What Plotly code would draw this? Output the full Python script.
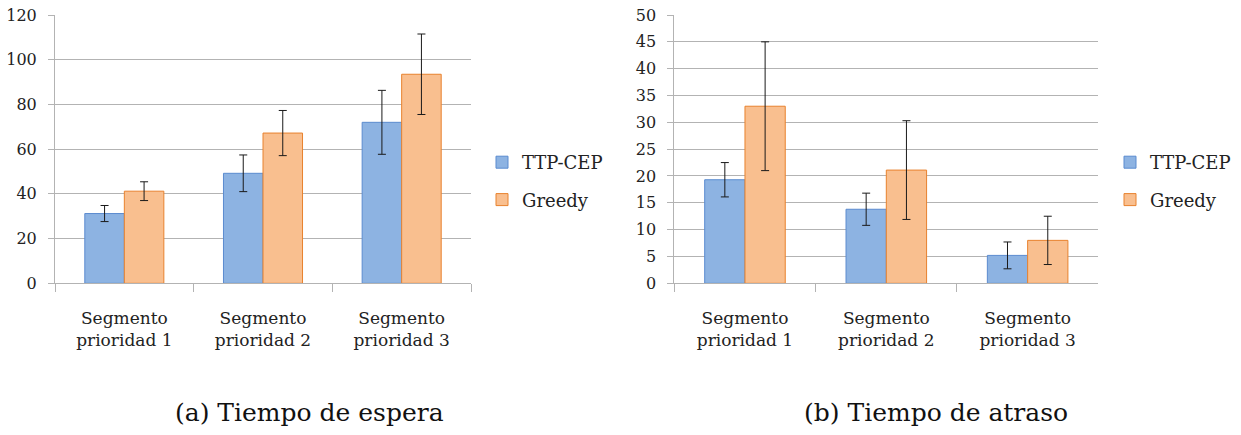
import plotly.graph_objects as go

# Categories and measured values
categorias = ["Segmento<br>prioridad 1", "Segmento<br>prioridad 2", "Segmento<br>prioridad 3"]

espera_ttp = [31.2, 49.2, 72.0]
espera_ttp_err = [3.6, 8.2, 14.3]
espera_greedy = [41.2, 67.2, 93.5]
espera_greedy_err = [4.2, 10.1, 18.0]

atraso_ttp = [19.3, 13.8, 5.2]
atraso_ttp_err = [3.2, 3.0, 2.5]
atraso_greedy = [33.0, 21.1, 8.0]
atraso_greedy_err = [12.0, 9.2, 4.5]

series_names = ["TTP-CEP", "Greedy"]

FONT = "'DejaVu Serif', serif"
BLUE_FILL, BLUE_LINE = "#8DB3E2", "#5B8BCF"
ORANGE_FILL, ORANGE_LINE = "#F9BF8F", "#E8822E"
GRID = "#B3B3B3"

fig = go.Figure()


def add_pair(xaxis, yaxis, legend, ttp, ttp_err, greedy, greedy_err):
    for name, vals, errs, fill, line, grp in [
        (series_names[0], ttp, ttp_err, BLUE_FILL, BLUE_LINE, "a"),
        (series_names[1], greedy, greedy_err, ORANGE_FILL, ORANGE_LINE, "b"),
    ]:
        fig.add_trace(go.Bar(
            x=categorias, y=vals, name=name,
            xaxis=xaxis, yaxis=yaxis, legend=legend, legendgroup=legend + grp,
            marker=dict(color=fill, line=dict(color=line, width=1)),
            error_y=dict(type="data", array=errs, visible=True,
                         color="#1a1a1a", thickness=1, width=4),
        ))


add_pair("x", "y", "legend", espera_ttp, espera_ttp_err, espera_greedy, espera_greedy_err)
add_pair("x2", "y2", "legend2", atraso_ttp, atraso_ttp_err, atraso_greedy, atraso_greedy_err)

W, H = 1241, 435
y_dom = [(H - 283.3) / H, (H - 15) / H]

xcommon = dict(
    type="category", showgrid=False, showline=True, linecolor=GRID, linewidth=1,
    ticks="outside", tickson="boundaries", ticklen=8, tickcolor=GRID,
    tickfont=dict(family=FONT, size=17, color="#222"), ticklabelstandoff=19,
    automargin=False,
)
ycommon = dict(
    showgrid=True, gridcolor=GRID, gridwidth=1, showline=True, linecolor=GRID,
    linewidth=1, ticks="outside", ticklen=6, tickcolor=GRID, zeroline=False,
    tickfont=dict(family=FONT, size=16, color="#222"), ticklabelstandoff=8,
    domain=y_dom, automargin=False,
)

legend_common = dict(
    font=dict(family=FONT, size=18, color="#222"), traceorder="grouped",
    tracegroupgap=11, bgcolor="rgba(0,0,0,0)", xanchor="left", yanchor="top",
)

caption_font = dict(family=FONT, size=25, color="#111")

fig.update_layout(
    template="none",
    width=W, height=H,
    margin=dict(l=0, r=0, t=0, b=0),
    paper_bgcolor="white", plot_bgcolor="white",
    barmode="group", bargap=0.43, bargroupgap=0,
    xaxis=dict(domain=[55 / W, 471 / W], anchor="y", **xcommon),
    yaxis=dict(range=[0, 120], dtick=20, anchor="x", **ycommon),
    xaxis2=dict(domain=[674.3 / W, 1098.3 / W], anchor="y2", **xcommon),
    yaxis2=dict(range=[0, 50], dtick=5, anchor="x2", **ycommon),
    legend=dict(x=482 / W, y=(H - 144) / H, **legend_common),
    legend2=dict(x=1110 / W, y=(H - 144) / H, **legend_common),
    annotations=[
        dict(text="(a) Tiempo de espera", x=309 / W, y=(H - 412) / H,
             xref="paper", yref="paper", xanchor="center", yanchor="middle",
             showarrow=False, font=caption_font),
        dict(text="(b) Tiempo de atraso", x=936 / W, y=(H - 412) / H,
             xref="paper", yref="paper", xanchor="center", yanchor="middle",
             showarrow=False, font=caption_font),
    ],
)

fig.write_html("out.html")
